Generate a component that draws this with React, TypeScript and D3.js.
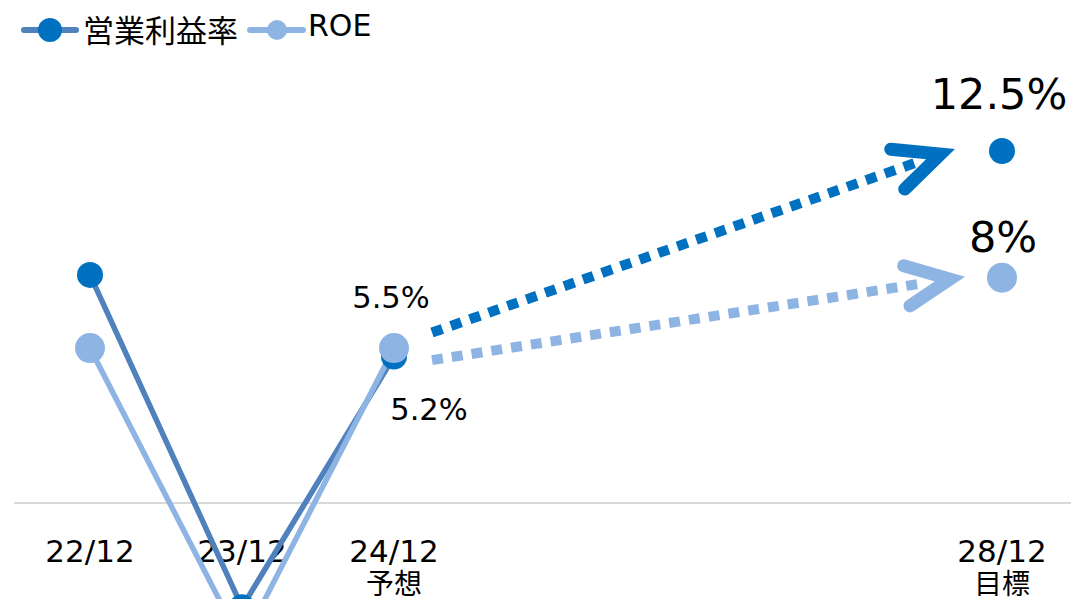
import * as d3 from "d3";

const periods = ["22/12", "23/12", "24/12", "28/12"];
const periodYears = [22, 23, 24, 28];
const periodNotes = ["", "", "予想", "目標"];

const opMargin = [8.1, -3.7, 5.2];
const roe = [5.5, -5.0, 5.5];
const opMarginTarget = 12.5;
const roeTarget = 8;

const seriesNames = ["営業利益率", "ROE"];

const W = 1071;
const H = 599;
const DARK = "#0070C0";
const DARK_LINE = "#4F81BD";
const LIGHT = "#8EB4E3";
const NUM_FONT = "DejaVu Sans, Verdana, sans-serif";
const JP_FONT = "'Noto Sans CJK JP', 'Noto Sans', sans-serif";

const x = d3.scaleLinear().domain([22, 28]).range([90, 1002]);
const y = d3.scaleLinear().domain([0, 12.5]).range([503, 151]);

const line = d3
  .line<number>()
  .x((d, i) => x(periodYears[i]))
  .y((d) => y(d));

// dotted arrow with a chevron head; (x1, y1) is the visible tip
function Arrow({ x0, y0, x1, y1, color, width, head }) {
  const ang = Math.atan2(y1 - y0, x1 - x0);
  const back = ang + Math.PI;
  const spread = (25 * Math.PI) / 180;
  const hw = 13;
  // pull the vertex back so the miter point lands on the tip
  const pull = hw / 2 / Math.sin(spread);
  const vx = x1 - Math.cos(ang) * pull;
  const vy = y1 - Math.sin(ang) * pull;
  const a1 = [vx + head * Math.cos(back - spread), vy + head * Math.sin(back - spread)];
  const a2 = [vx + head * Math.cos(back + spread), vy + head * Math.sin(back + spread)];
  const len = Math.hypot(x1 - x0, y1 - y0);
  const stop = len - 40;
  const ex = x0 + Math.cos(ang) * stop;
  const ey = y0 + Math.sin(ang) * stop;
  return (
    <g>
      <line
        x1={x0}
        y1={y0}
        x2={ex}
        y2={ey}
        stroke={color}
        strokeWidth={width}
        strokeDasharray="11 9"
      />
      <path
        d={`M${a1[0]},${a1[1]}L${vx},${vy}L${a2[0]},${a2[1]}`}
        fill="none"
        stroke={color}
        strokeWidth={hw}
        strokeLinecap="round"
        strokeLinejoin="miter"
        strokeMiterlimit={10}
      />
    </g>
  );
}

export default function App() {
  const x24 = x(periodYears[2]);
  const x28 = x(periodYears[3]);
  return (
    <svg
      width={W}
      height={H}
      style={{ position: "fixed", left: 0, top: 0, background: "#fff" }}
    >
      {/* zero line */}
      <line x1={14} x2={W} y1={y(0)} y2={y(0)} stroke="#d9d9d9" strokeWidth={2} />

      {/* x labels */}
      {periods.map((p, i) => (
        <g key={p}>
          <text
            x={x(periodYears[i])}
            y={562}
            textAnchor="middle"
            fontFamily={NUM_FONT}
            fontSize={31}
            fill="#000"
          >
            {p}
          </text>
          {periodNotes[i] && (
            <text
              x={x(periodYears[i])}
              y={594}
              textAnchor="middle"
              fontFamily={JP_FONT}
              fontSize={28}
              fill="#000"
            >
              {periodNotes[i]}
            </text>
          )}
        </g>
      ))}

      {/* actual lines */}
      <path d={line(opMargin)} fill="none" stroke={DARK_LINE} strokeWidth={5.5} />
      <path d={line(roe)} fill="none" stroke={LIGHT} strokeWidth={5.5} />
      {opMargin.map((v, i) => (
        <circle key={"o" + i} cx={x(periodYears[i])} cy={y(v)} r={13} fill={DARK} />
      ))}
      {roe.map((v, i) => (
        <circle key={"r" + i} cx={x(periodYears[i])} cy={y(v)} r={15} fill={LIGHT} />
      ))}

      {/* target arrows */}
      <Arrow
        x0={x24 + 38}
        y0={y(opMargin[2]) - 24}
        x1={x28 - 47}
        y1={y(opMarginTarget) - 2}
        color={DARK}
        width={10}
        head={50}
      />
      <Arrow
        x0={x24 + 38}
        y0={y(roe[2]) + 12}
        x1={x28 - 37}
        y1={y(roeTarget) - 1}
        color={LIGHT}
        width={10}
        head={48}
      />
      <circle cx={x28} cy={y(opMarginTarget)} r={13} fill={DARK} />
      <circle cx={x28} cy={y(roeTarget)} r={15} fill={LIGHT} />

      {/* data labels */}
      <text x={x24 - 3} y={y(roe[2]) - 40} textAnchor="middle" fontFamily={NUM_FONT} fontSize={30.5}>
        {roe[2]}%
      </text>
      <text x={x24 + 35} y={y(opMargin[2]) + 63} textAnchor="middle" fontFamily={NUM_FONT} fontSize={30.5}>
        {opMargin[2]}%
      </text>
      <text x={x28 - 3} y={y(opMarginTarget) - 42} textAnchor="middle" fontFamily={NUM_FONT} fontSize={43}>
        {opMarginTarget}%
      </text>
      <text x={x28 + 1} y={y(roeTarget) - 26} textAnchor="middle" fontFamily={NUM_FONT} fontSize={43}>
        {roeTarget}%
      </text>

      {/* legend */}
      <g>
        <line x1={24} x2={76} y1={30} y2={30} stroke={DARK_LINE} strokeWidth={6} strokeLinecap="round" />
        <circle cx={50} cy={30} r={12} fill={DARK} />
        <text x={83} y={42} fontFamily={JP_FONT} fontSize={31}>
          {seriesNames[0]}
        </text>
        <line x1={250} x2={303} y1={30} y2={30} stroke={LIGHT} strokeWidth={6} strokeLinecap="round" />
        <circle cx={277} cy={30} r={10} fill={LIGHT} />
        <text x={308} y={36} fontFamily={NUM_FONT} fontSize={30}>
          {seriesNames[1]}
        </text>
      </g>
    </svg>
  );
}
